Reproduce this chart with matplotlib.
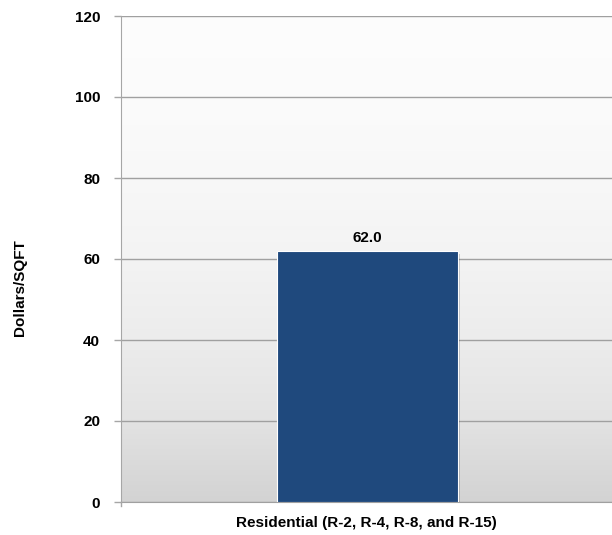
import matplotlib
matplotlib.use("Agg")
import matplotlib.pyplot as plt
import numpy as np
from matplotlib.colors import LinearSegmentedColormap

categories = ["Residential (R-2, R-4, R-8, and R-15)"]
values = [62.0]
yticks = [0, 20, 40, 60, 80, 100, 120]

plt.rcParams['font.family'] = ['Liberation Sans', 'DejaVu Sans']

fig = plt.figure(figsize=(6.12, 5.35), dpi=100)
ax = fig.add_axes([121/612, 1 - 502/535, (612 - 121)/612, (502 - 16)/535])

# gradient background
cmap = LinearSegmentedColormap.from_list("bg", [
    (0.0, "#D3D3D3"), (0.17, "#E3E3E3"), (0.33, "#ECECEC"), (0.5, "#F3F3F3"),
    (0.67, "#F8F8F8"), (0.83, "#FBFBFB"), (1.0, "#FDFDFD")])
grad = np.linspace(0, 1, 256).reshape(-1, 1)
ax.imshow(grad, cmap=cmap, aspect='auto', extent=(-0.5, 0.5, 0, 120),
          origin='lower', zorder=0)

x = np.arange(len(categories))
# shadow
ax.bar(x + 0.006, values, width=0.367, bottom=-0.8, color='#000000', alpha=0.18,
       zorder=2, linewidth=0)
bars = ax.bar(x + 0.002, values, width=0.367, color='#1F497D', edgecolor='white',
              linewidth=0.8, zorder=3)
for xi, v in zip(x, values):
    ax.text(xi + 0.002, v + 1.5, f"{v:.1f}", ha='center', va='bottom', fontsize=11,
            fontweight='bold', zorder=4)

ax.set_xlim(-0.5, 0.5)
ax.set_ylim(0, 120)
ax.set_yticks(yticks)
ax.set_yticklabels([str(t) for t in yticks], fontsize=11, fontweight='bold')
ax.set_xticks(x)
ax.set_xticklabels(categories, fontsize=11, fontweight='bold')
ax.tick_params(axis='x', length=0, pad=10)
ax.tick_params(axis='y', length=5, color='#A6A6A6', width=1, pad=10)
ax.yaxis.grid(True, color='#A0A0A0', linewidth=1)
for gl in ax.get_ygridlines():
    gl.set_zorder(1)
for s in ['top', 'right']:
    ax.spines[s].set_visible(False)
ax.spines['left'].set_color('#A6A6A6')
ax.spines['bottom'].set_color('#A0A0A0')
ax.spines['left'].set_zorder(5)

ax.set_ylabel("Dollars/SQFT", fontsize=11, fontweight='bold')
ax.yaxis.set_label_coords(-0.1914, 0.442)

# small tick below axis at left
ax.plot([-0.5, -0.5], [0, -1], color='#A6A6A6', lw=1, clip_on=False, zorder=5)

fig.savefig("out.png", dpi=100)
